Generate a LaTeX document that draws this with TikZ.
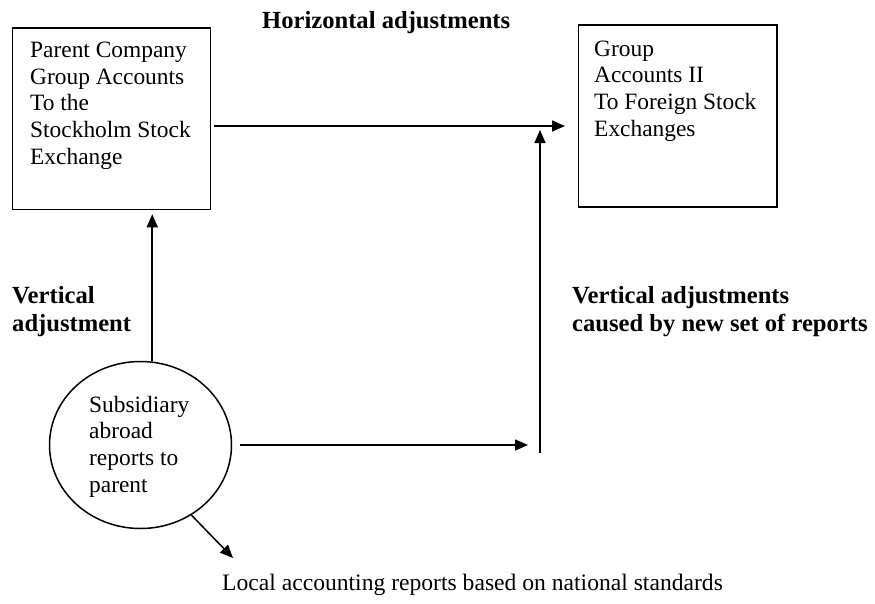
\documentclass[tikz,border=0pt]{standalone}
\usepackage{fontspec}
\setmainfont{Liberation Serif}
\usetikzlibrary{arrows.meta,shapes.geometric}
\begin{document}
\begin{tikzpicture}[x=1pt,y=-1pt,
  box/.style={draw,line width=1.5pt,rectangle,inner sep=0pt},
  arr/.style={line width=1.5pt,-{Triangle[length=13pt,width=11pt]}},
  body/.style={font={\fontsize{23.4}{26.6}\selectfont},align=left,anchor=base west,inner sep=0pt},
  hd/.style={font={\fontsize{24.6}{27.5}\selectfont\bfseries},align=left,anchor=base west,inner sep=0pt}]
\useasboundingbox (0,0) rectangle (875,603);
% boxes
\node[box,minimum width=198pt,minimum height=181.5pt] (pc) at (111.5,118.75) {};
\node[box,minimum width=198.5pt,minimum height=182pt] (gb) at (677.75,116) {};
\node[draw,line width=1.5pt,ellipse,minimum width=182pt,minimum height=167pt,inner sep=0pt] (sub) at (140.5,445) {};
% texts (anchored at the baseline of the last line)
\node[body] (pct) at (30,164) {Parent Company\\Group Accounts\\To the\\Stockholm Stock\\Exchange};
\node[body] (gbt) at (594,136) {Group\\Accounts II\\To Foreign Stock\\Exchanges};
\node[body] (subt) at (89,492) {Subsidiary\\abroad\\reports to\\parent};
\node[hd] (hadj) at (262,28) {Horizontal adjustments};
\node[hd] (vadj) at (12,331) {Vertical\\adjustment};
\node[hd] (vadj2) at (572,331) {Vertical adjustments\\caused by new set of reports};
\node[body,font={\fontsize{23.6}{26.6}\selectfont}] (local) at (222,590) {Local accounting reports based on national standards};
% connectors
\coordinate (hc) at (565,126);
\coordinate (vb) at (540,453);
\coordinate (vt) at (540,130);
\coordinate (dl) at (233,558);
\draw[arr,shorten <=3pt] (pc.east |- hc) -- (hc);
\draw[arr] (vb) -- (vt);
\draw[arr,shorten >=4pt] (sub.82) -- (sub.82 |- pc.south);
\draw[arr,shorten <=7.5pt] (sub.east) -- ([xshift=-12pt]vb |- sub.east);
\draw[arr] (sub.-54) -- (dl);
\end{tikzpicture}
\end{document}
